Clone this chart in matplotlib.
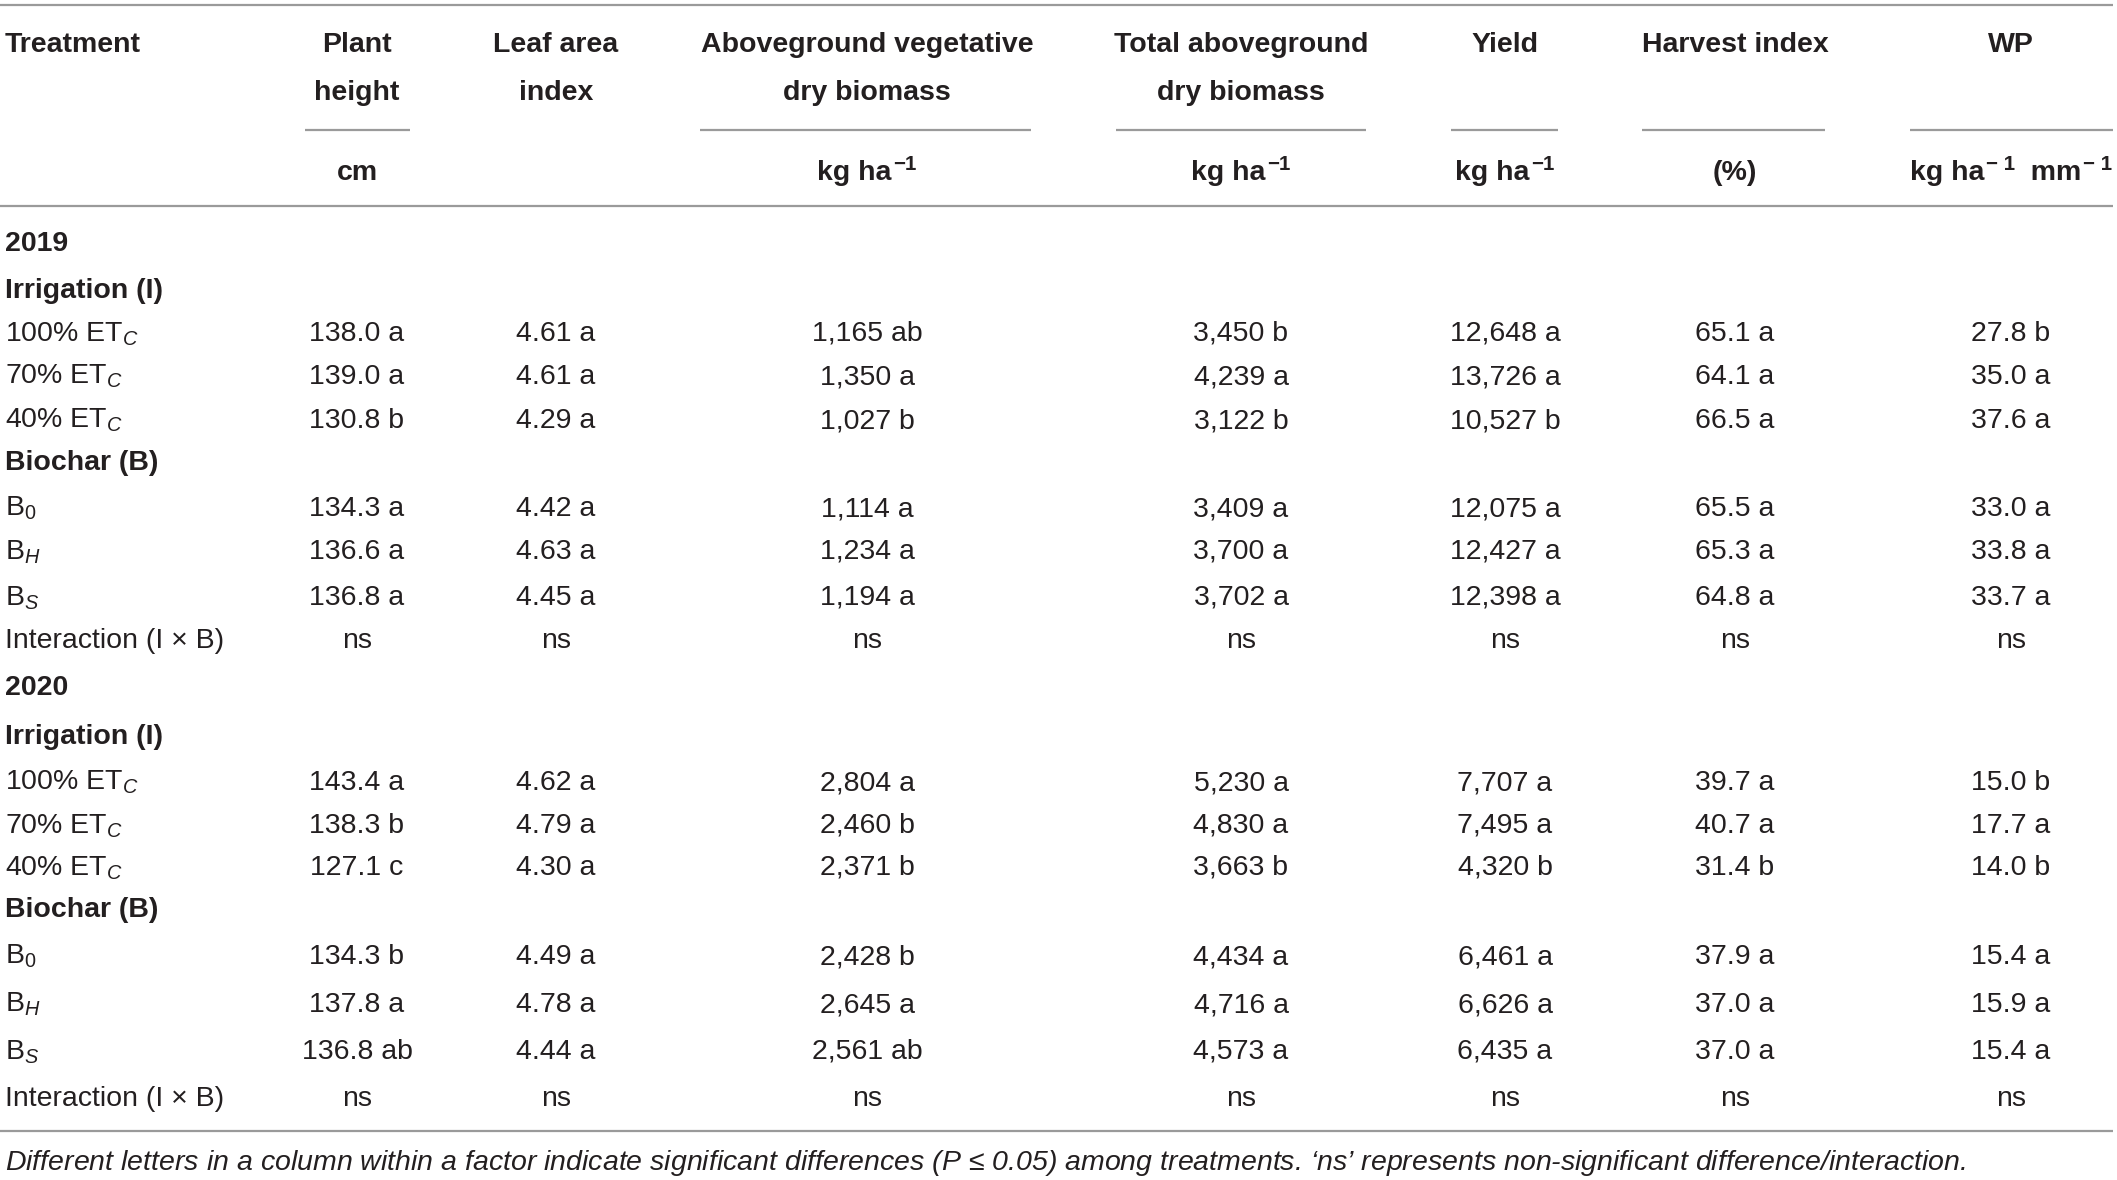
import matplotlib
matplotlib.use("Agg")
import matplotlib.pyplot as plt

plt.rcParams['font.family'] = ['Liberation Sans', 'DejaVu Sans']
plt.rcParams['mathtext.fontset'] = 'custom'
plt.rcParams['mathtext.rm'] = 'Liberation Sans'
plt.rcParams['mathtext.it'] = 'Liberation Sans:italic'
plt.rcParams['mathtext.bf'] = 'Liberation Sans:bold'

# ---------------- data ----------------
col_header_1 = ["Plant", "Leaf area", "Aboveground vegetative", "Total aboveground", "Yield", "Harvest index", "WP"]
col_header_2 = ["height", "index", "dry biomass", "dry biomass", "", "", ""]
# units as (text, is_superscript) pieces
col_units = [
    [("cm", False)],
    [],
    [("kg ha", False), ("−1", True)],
    [("kg ha", False), ("−1", True)],
    [("kg ha", False), ("−1", True)],
    [("(%)", False)],
    [("kg ha", False), ("− 1", True), ("  mm", False), ("− 1", True)],
]

years = ["2019", "2020"]
factor_irrigation = "Irrigation (I)"
factor_biochar = "Biochar (B)"
irrigation_levels = [r"100% ET$_{\mathit{C}}$", r"70% ET$_{\mathit{C}}$", r"40% ET$_{\mathit{C}}$"]
biochar_levels = [r"B$_{0}$", r"B$_{\mathit{H}}$", r"B$_{\mathit{S}}$"]
interaction_label = "Interaction (I × B)"

# 2019 values (rows: 100%, 70%, 40%, B0, BH, BS, interaction)
plant_height_2019 = ["138.0 a", "139.0 a", "130.8 b", "134.3 a", "136.6 a", "136.8 a", "ns"]
lai_2019 = ["4.61 a", "4.61 a", "4.29 a", "4.42 a", "4.63 a", "4.45 a", "ns"]
veg_biomass_2019 = ["1,165 ab", "1,350 a", "1,027 b", "1,114 a", "1,234 a", "1,194 a", "ns"]
total_biomass_2019 = ["3,450 b", "4,239 a", "3,122 b", "3,409 a", "3,700 a", "3,702 a", "ns"]
yield_2019 = ["12,648 a", "13,726 a", "10,527 b", "12,075 a", "12,427 a", "12,398 a", "ns"]
harvest_index_2019 = ["65.1 a", "64.1 a", "66.5 a", "65.5 a", "65.3 a", "64.8 a", "ns"]
wp_2019 = ["27.8 b", "35.0 a", "37.6 a", "33.0 a", "33.8 a", "33.7 a", "ns"]

# 2020 values
plant_height_2020 = ["143.4 a", "138.3 b", "127.1 c", "134.3 b", "137.8 a", "136.8 ab", "ns"]
lai_2020 = ["4.62 a", "4.79 a", "4.30 a", "4.49 a", "4.78 a", "4.44 a", "ns"]
veg_biomass_2020 = ["2,804 a", "2,460 b", "2,371 b", "2,428 b", "2,645 a", "2,561 ab", "ns"]
total_biomass_2020 = ["5,230 a", "4,830 a", "3,663 b", "4,434 a", "4,716 a", "4,573 a", "ns"]
yield_2020 = ["7,707 a", "7,495 a", "4,320 b", "6,461 a", "6,626 a", "6,435 a", "ns"]
harvest_index_2020 = ["39.7 a", "40.7 a", "31.4 b", "37.9 a", "37.0 a", "37.0 a", "ns"]
wp_2020 = ["15.0 b", "17.7 a", "14.0 b", "15.4 a", "15.9 a", "15.4 a", "ns"]

footnote = ("Different letters in a column within a factor indicate significant differences "
            "($\\mathit{P}$ ≤ 0.05) among treatments. ‘ns’ represents non-significant difference/interaction.")

columns_by_year = {
    "2019": [plant_height_2019, lai_2019, veg_biomass_2019, total_biomass_2019,
             yield_2019, harvest_index_2019, wp_2019],
    "2020": [plant_height_2020, lai_2020, veg_biomass_2020, total_biomass_2020,
             yield_2020, harvest_index_2020, wp_2020],
}

# ---------------- layout (pixel coordinates) ----------------
W, H = 2117, 1180
TXT = "#231f20"
LINE = "#9a9a9a"
FS = 20.5

fig = plt.figure(figsize=(W / 100, H / 100), dpi=100)
ax = fig.add_axes([0, 0, 1, 1])
ax.set_xlim(0, W)
ax.set_ylim(H, 0)
ax.axis("off")
renderer = fig.canvas.get_renderer()

col_x = [357, 556, 867, 1241, 1505, 1735, 2011]
sep_spans = [(305, 410), None, (700, 1031), (1116, 1366), (1451, 1558), (1642, 1825), (1910, 2113)]
left_x = 5
base_off = 10  # baseline offset from row centre

def put(x, y, s, ha="center", bold=False, italic=False, size=FS):
    return ax.text(x, y + base_off, s, ha=ha, va="baseline", fontsize=size, color=TXT,
                   fontweight="bold" if bold else "normal",
                   fontstyle="italic" if italic else "normal")

def put_pieces(xc, y, pieces, bold=True):
    # place a run of normal/superscript pieces centred at xc
    arts = []
    for txt, sup in pieces:
        size = FS * 0.72 if sup else FS
        yy = y + base_off - (10.5 if sup else 0)
        t = ax.text(0, yy, txt, ha="left", va="baseline", fontsize=size, color=TXT,
                    fontweight="bold" if bold else "normal")
        arts.append(t)
    widths = [a.get_window_extent(renderer).width for a in arts]
    gaps = [0] + [2 if p[1] else 0 for p in pieces[1:]]
    total = sum(widths) + sum(gaps)
    x = xc - total / 2
    for a, w, g in zip(arts, widths, gaps):
        x += g
        a.set_x(x)
        x += w

# rules
ax.hlines([5, 206, 1131], 0, 2113, color=LINE, lw=1.6)
for span in sep_spans:
    if span:
        ax.hlines(130, span[0], span[1], color=LINE, lw=1.6)

# header
put(left_x, 42, "Treatment", ha="left", bold=True)
for x, h1, h2, u in zip(col_x, col_header_1, col_header_2, col_units):
    put(x, 42, h1, bold=True)
    if h2:
        put(x, 90, h2, bold=True)
    if u:
        put_pieces(x, 170, u)

row_y = {
    "2019": [241, 288, 331, 374, 418, 460, 506, 549, 595, 638],
    "2020": [685, 734, 780, 823, 865, 907, 954, 1002, 1049, 1096],
}

for yr in years:
    ys = row_y[yr]
    put(left_x, ys[0], yr, ha="left", bold=True)
    put(left_x, ys[1], factor_irrigation, ha="left", bold=True)
    put(left_x, ys[5], factor_biochar, ha="left", bold=True)
    label_rows = [ys[2], ys[3], ys[4], ys[6], ys[7], ys[8], ys[9]]
    labels = irrigation_levels + biochar_levels + [interaction_label]
    for y, lab in zip(label_rows, labels):
        put(left_x, y, lab, ha="left")
    for x, values in zip(col_x, columns_by_year[yr]):
        for y, v in zip(label_rows, values):
            put(x, y, v)

put(left_x, 1160, footnote, ha="left", italic=True, size=20.5)

fig.savefig("out.png", dpi=100)
